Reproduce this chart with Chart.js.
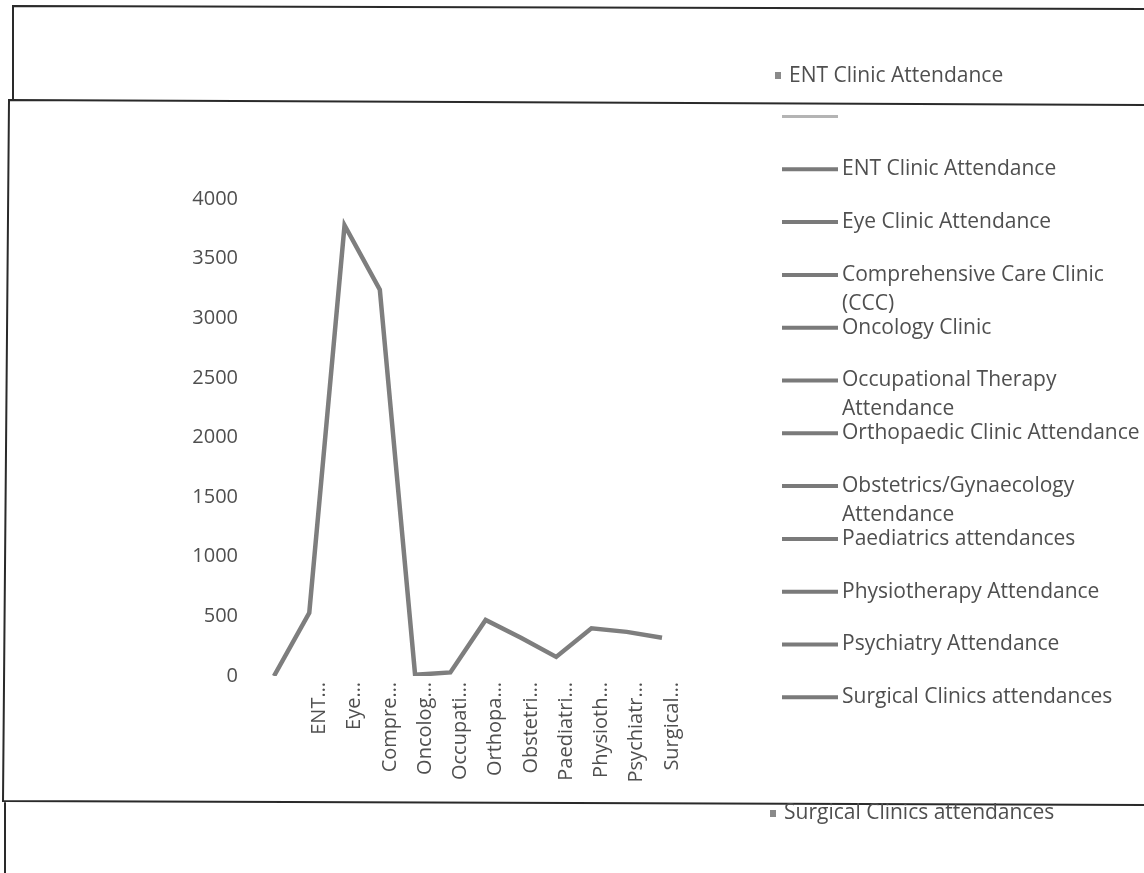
<!DOCTYPE html>
<html>
<head>
<meta charset="utf-8">
<title>Clinic attendance</title>
<script src="https://cdn.jsdelivr.net/npm/chart.js@4/dist/chart.umd.min.js"></script>
<style>
  html, body { margin: 0; padding: 0; background: #ffffff; }
  #wrap { position: relative; width: 1144px; height: 873px; }
  canvas { display: block; }
</style>
</head>
<body>
<div id="wrap"><canvas id="chart" width="1144" height="873"></canvas></div>
<script>
// Clinics (first entry is the blank header row of the source table)
const categories = [
  '',
  'ENT Clinic Attendance',
  'Eye Clinic Attendance',
  'Comprehensive Care Clinic (CCC)',
  'Oncology Clinic',
  'Occupational Therapy Attendance',
  'Orthopaedic Clinic Attendance',
  'Obstetrics/Gynaecology Attendance',
  'Paediatrics attendances',
  'Physiotherapy Attendance',
  'Psychiatry Attendance',
  'Surgical Clinics attendances'
];

// Shortened axis labels
const tickLabels = [
  '', 'ENT…', 'Eye…', 'Compre…', 'Oncolog…', 'Occupati…', 'Orthopa…',
  'Obstetri…', 'Paediatri…', 'Physioth…', 'Psychiatr…', 'Surgical…'
];

// Attendance per clinic
const attendance = [0, 530, 3780, 3240, 10, 30, 470, 320, 160, 400, 370, 320];

// Value axis ticks
const yTicks = [0, 500, 1000, 1500, 2000, 2500, 3000, 3500, 4000];

const FONT = '"Open Sans", "DejaVu Sans", sans-serif';
const TEXT = '#4f4f4f';

// Page frames, stray captions and the side legend
const decorations = {
  id: 'decorations',
  afterDraw(chart) {
    const ctx = chart.ctx;
    ctx.save();

    // frames
    ctx.strokeStyle = '#2a2a2a';
    ctx.lineWidth = 2;
    ctx.beginPath();
    ctx.moveTo(13, 101); ctx.lineTo(13, 6); ctx.lineTo(1144, 9);
    ctx.moveTo(1144, 105); ctx.lineTo(9, 100); ctx.lineTo(3, 801); ctx.lineTo(1144, 805);
    ctx.moveTo(5, 802); ctx.lineTo(5, 873);
    ctx.stroke();

    // stray captions with square markers
    ctx.textBaseline = 'middle';
    ctx.textAlign = 'left';
    ctx.fillStyle = '#8a8a8a';
    ctx.fillRect(775, 72, 6, 7);
    ctx.fillRect(770, 810, 6, 7);
    ctx.font = '21px ' + FONT;
    ctx.fillStyle = TEXT;
    ctx.fillText('ENT Clinic Attendance', 789, 76);
    ctx.fillText('Surgical Clinics attendances', 784, 813);

    // legend
    ctx.font = '21px ' + FONT;
    const x0 = 782, x1 = 838, tx = 842, maxW = 302;
    categories.forEach((name, i) => {
      const y = 116.5 + i * 52.8;
      ctx.strokeStyle = i === 0 ? '#b4b4b4' : '#7a7a7a';
      ctx.lineWidth = i === 0 ? 3 : 4;
      ctx.beginPath();
      ctx.moveTo(x0, y); ctx.lineTo(x1, y);
      ctx.stroke();
      // word wrap
      const words = name.split(' ');
      const lines = [];
      let cur = '';
      words.forEach(w => {
        const t = cur ? cur + ' ' + w : w;
        if (ctx.measureText(t).width > maxW && cur) { lines.push(cur); cur = w; }
        else cur = t;
      });
      if (cur) lines.push(cur);
      ctx.fillStyle = TEXT;
      lines.forEach((ln, k) => ctx.fillText(ln, tx, y + k * 29));
    });
    ctx.restore();
  }
};

new Chart(document.getElementById('chart'), {
  type: 'line',
  data: {
    labels: tickLabels,
    datasets: [{
      label: 'Attendance',
      data: attendance,
      borderColor: '#7e7e7e',
      borderWidth: 4.5,
      pointRadius: 0,
      tension: 0,
      fill: false
    }]
  },
  options: {
    responsive: false,
    animation: false,
    layout: { padding: { left: 0, right: 482, top: 199, bottom: 0 } },
    plugins: { legend: { display: false }, tooltip: { enabled: false } },
    scales: {
      x: {
        offset: false,
        grid: { display: false, drawTicks: false },
        border: { display: false },
        afterFit(scale) { scale.height = 197; },
        ticks: {
          autoSkip: false,
          minRotation: 90,
          maxRotation: 90,
          padding: 6,
          labelOffset: 10,
          color: TEXT,
          font: { family: FONT, size: 20 }
        }
      },
      y: {
        min: 0,
        max: 4000,
        grid: { display: false, drawTicks: false },
        border: { display: false },
        afterFit(scale) { scale.width = 274; },
        afterBuildTicks(scale) { scale.ticks = yTicks.map(v => ({ value: v })); },
        ticks: {
          padding: 36,
          color: TEXT,
          font: { family: FONT, size: 20 },
          callback: (v) => String(v)
        }
      }
    }
  },
  plugins: [decorations]
});
</script>
</body>
</html>
